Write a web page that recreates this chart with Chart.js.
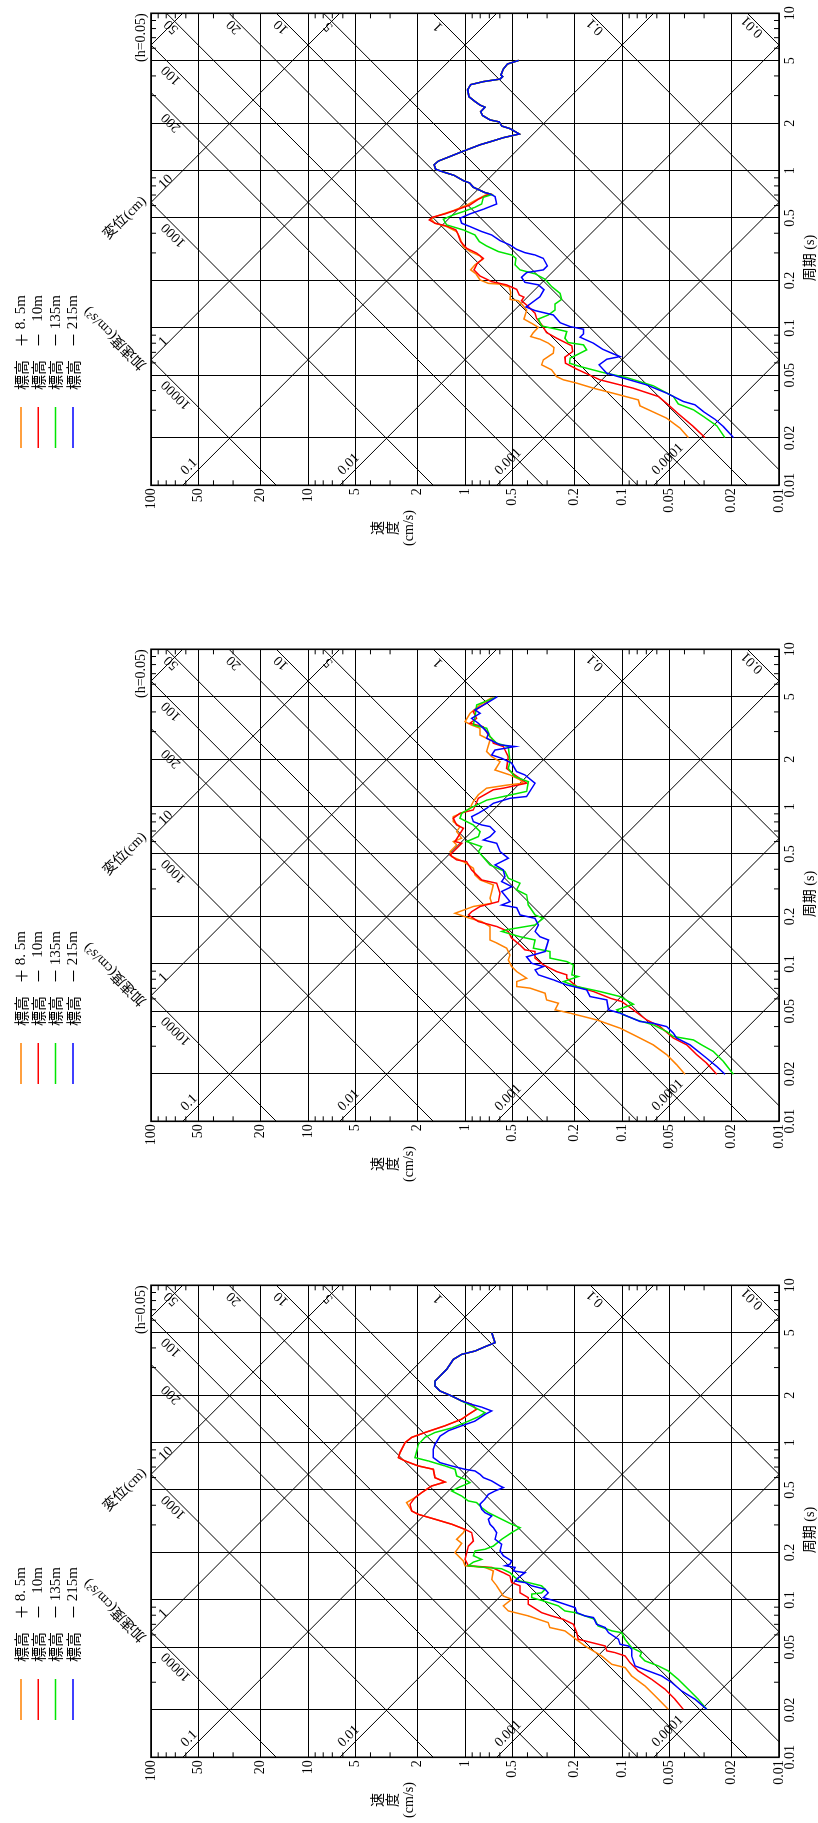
<!DOCTYPE html>
<html lang="ja">
<head>
<meta charset="utf-8">
<title>応答スペクトル</title>
<script src="https://cdn.jsdelivr.net/npm/chart.js@4.4.1/dist/chart.umd.min.js"></script>
<style>
  html, body { margin:0; padding:0; background:#fff; }
  body { width:818px; height:1823px; overflow:hidden; position:relative; }
  .panel { position:absolute; left:0; width:818px; height:636px; }
  .rot { position:absolute; left:0; top:0; width:636px; height:818px; transform-origin:0 0; transform:translate(0,636px) rotate(-90deg); }
  .rot canvas { display:block; }
</style>
</head>
<body>
<div class="panel" style="top:0px"><div class="rot"><canvas id="c1" width="636" height="818"></canvas></div></div>
<div class="panel" style="top:636px"><div class="rot"><canvas id="c2" width="636" height="818"></canvas></div></div>
<div class="panel" style="top:1272px"><div class="rot"><canvas id="c3" width="636" height="818"></canvas></div></div>
<script>
// ---------- axis / grid values ----------
const periodTicks   = [0.01,0.02,0.05,0.1,0.2,0.5,1,2,5,10];
const velocityTicks = [0.01,0.02,0.05,0.1,0.2,0.5,1,2,5,10,20,50,100];
const dispLines  = [0.0001,0.001,0.01,0.1,1,10,100];          // 変位 (cm)
const dispLabels = ['0.0001','0.001','0.01','0.1','1','10',''];
const accLines   = [0.01,0.1,1,5,10,20,50,100,200,1000,10000];  // 加速度 (cm/s²)
const accLabels  = ['0.01','0.1','1','5','10','20','50','100','200','1000','10000'];
const seriesLabels = ['標高 ＋8. 5m','標高 － 10m','標高 －135m','標高 －215m'];
const seriesColors = ['#ff8000','#ff0000','#00e600','#0000ff'];
const seriesOrder  = [3,2,1,0];

// ---------- panel 1 : [period (s), velocity (cm/s)] ----------
const p1Upper = [[0.711,0.693],[0.725,0.746],[0.784,0.885],[0.835,0.934],[0.864,1.025],[0.934,1.175],[0.981,1.374],[1.02,1.537],[1.09,1.575],[1.15,1.479],[1.23,1.246],[1.32,1.045],[1.46,0.802],[1.53,0.686],[1.62,0.570],[1.71,0.451],[1.85,0.517],[1.92,0.584],[2.04,0.604],[2.10,0.693],[2.24,0.772],[2.37,0.795],[2.53,0.746],[2.61,0.802],[2.75,0.864],[2.95,0.943],[3.26,0.962],[3.52,0.920],[3.68,0.764],[3.82,0.598],[3.96,0.576],[4.06,0.590],[4.43,0.570],[4.76,0.537],[5.02,0.455]];
const p1Orange = [[0.0201,0.0378],[0.0231,0.0427],[0.0267,0.0519],[0.0320,0.0768],[0.0349,0.0787],[0.0385,0.114],[0.0414,0.152],[0.0446,0.194],[0.0468,0.236],[0.0491,0.261],[0.0542,0.281],[0.0583,0.325],[0.0627,0.317],[0.0691,0.274],[0.0751,0.271],[0.0800,0.294],[0.0848,0.333],[0.0882,0.382],[0.0935,0.367],[0.101,0.341],[0.107,0.376],[0.114,0.421],[0.130,0.405],[0.142,0.436],[0.149,0.457],[0.152,0.517],[0.168,0.512],[0.182,0.522],[0.190,0.598],[0.192,0.710],[0.202,0.802],[0.221,0.851],[0.234,0.920],[0.252,0.864],[0.273,0.772],[0.287,0.802],[0.306,0.929],[0.329,1.025],[0.381,1.087],[0.410,1.130],[0.441,1.309],[0.463,1.553],[0.496,1.654],[0.518,1.479],[0.557,1.187],[0.603,0.976],[0.645,0.864],[0.697,0.746]];
const p1Red = [[0.0201,0.0296],[0.0236,0.0351],[0.0285,0.0438],[0.0325,0.0507],[0.0367,0.0587],[0.0414,0.0847],[0.0468,0.138],[0.0547,0.194],[0.0597,0.229],[0.0652,0.231],[0.0708,0.206],[0.0770,0.209],[0.0861,0.261],[0.0935,0.302],[0.105,0.325],[0.115,0.350],[0.124,0.358],[0.137,0.395],[0.149,0.436],[0.157,0.421],[0.162,0.451],[0.176,0.469],[0.188,0.543],[0.197,0.676],[0.214,0.802],[0.234,0.876],[0.258,0.834],[0.277,0.764],[0.299,0.843],[0.321,0.976],[0.354,1.066],[0.390,1.103],[0.420,1.141],[0.445,1.309],[0.463,1.553],[0.486,1.687],[0.506,1.607],[0.531,1.341],[0.568,1.103],[0.605,0.929],[0.658,0.822],[0.697,0.728]];
const p1Green = [[0.0201,0.0221],[0.0239,0.0249],[0.0274,0.0303],[0.0302,0.0351],[0.0329,0.0438],[0.0367,0.0471],[0.0429,0.0632],[0.0484,0.0934],[0.0521,0.132],[0.0569,0.185],[0.0597,0.216],[0.0643,0.214],[0.0675,0.194],[0.0726,0.168],[0.0781,0.176],[0.0808,0.220],[0.0861,0.231],[0.0949,0.225],[0.0982,0.261],[0.103,0.325],[0.114,0.341],[0.121,0.294],[0.130,0.267],[0.142,0.267],[0.152,0.242],[0.166,0.248],[0.183,0.280],[0.204,0.309],[0.221,0.358],[0.234,0.446],[0.252,0.480],[0.277,0.473],[0.291,0.504],[0.306,0.613],[0.332,0.728],[0.354,0.810],[0.390,0.864],[0.420,1.025],[0.452,1.309],[0.491,1.374],[0.523,1.187],[0.549,1.025],[0.585,0.864],[0.614,0.783],[0.677,0.764],[0.704,0.676]];
const p1Blue = [[0.0201,0.0195],[0.0236,0.0226],[0.0263,0.0256],[0.0294,0.0303],[0.0325,0.0343],[0.0341,0.0407],[0.0385,0.0519],[0.0435,0.0697],[0.0487,0.103],[0.0516,0.125],[0.0583,0.140],[0.0633,0.125],[0.0658,0.103],[0.0691,0.116],[0.0733,0.133],[0.080,0.152],[0.0874,0.185],[0.0917,0.176],[0.0982,0.176],[0.102,0.214],[0.108,0.248],[0.121,0.274],[0.129,0.358],[0.136,0.409],[0.142,0.385],[0.158,0.333],[0.175,0.314],[0.188,0.341],[0.195,0.415],[0.210,0.436],[0.225,0.405],[0.234,0.317],[0.248,0.299],[0.277,0.317],[0.291,0.358],[0.301,0.415],[0.316,0.469],[0.337,0.517],[0.359,0.598],[0.390,0.676],[0.410,0.783],[0.441,0.929],[0.463,1.050],[0.498,1.076],[0.531,0.929],[0.568,0.764],[0.614,0.628],[0.684,0.644]];

// ---------- panel 2 ----------
const p2Orange = [[0.0199,0.0397],[0.0229,0.0449],[0.0265,0.0519],[0.0306,0.0632],[0.0355,0.0847],[0.0391,0.103],[0.0441,0.145],[0.0487,0.214],[0.0511,0.267],[0.0563,0.254],[0.0591,0.302],[0.0652,0.309],[0.0702,0.385],[0.0719,0.469],[0.0773,0.469],[0.0812,0.405],[0.0895,0.469],[0.0963,0.504],[0.106,0.530],[0.114,0.517],[0.126,0.543],[0.136,0.628],[0.142,0.693],[0.173,0.693],[0.186,0.783],[0.195,0.929],[0.210,1.158],[0.232,0.885],[0.243,0.676],[0.262,0.693],[0.289,0.676],[0.318,0.660],[0.342,0.802],[0.368,0.864],[0.406,0.885],[0.447,1.025],[0.482,1.216],[0.518,1.246],[0.571,1.130],[0.600,1.187],[0.630,1.050],[0.694,1.130],[0.747,1.076],[0.803,1.187],[0.864,1.187],[0.930,1.0],[0.976,0.929],[1.08,0.885],[1.19,0.822],[1.31,0.728],[1.37,0.543],[1.41,0.425],[1.48,0.446],[1.59,0.517],[1.71,0.644],[1.93,0.598],[2.08,0.676],[2.24,0.728],[2.65,0.693],[2.85,0.802],[3.15,0.802],[3.30,0.907],[3.47,1.0],[3.92,0.929],[4.43,0.802],[4.93,0.676]];
const p2Red = [[0.0199,0.0249],[0.0234,0.0289],[0.0265,0.0334],[0.0306,0.0387],[0.0338,0.0471],[0.0400,0.0573],[0.0441,0.0697],[0.0511,0.0847],[0.0577,0.1005],[0.0606,0.119],[0.0668,0.152],[0.0719,0.194],[0.0812,0.225],[0.0853,0.225],[0.0895,0.261],[0.0987,0.317],[0.109,0.358],[0.120,0.358],[0.123,0.415],[0.132,0.446],[0.146,0.504],[0.161,0.530],[0.173,0.628],[0.186,0.822],[0.205,0.952],[0.215,0.907],[0.232,0.802],[0.249,0.613],[0.282,0.598],[0.326,0.628],[0.342,0.783],[0.359,0.822],[0.396,0.907],[0.447,0.976],[0.459,1.130],[0.493,1.246],[0.585,1.050],[0.600,1.158],[0.729,1.025],[0.765,1.130],[0.844,1.187],[0.908,1.076],[0.953,0.885],[1.13,0.822],[1.28,0.660],[1.31,0.570],[1.41,0.405],[1.59,0.481],[1.75,0.543],[2.08,0.530],[2.41,0.570],[2.53,0.660],[2.72,0.676],[2.85,0.710],[3.22,0.764],[3.39,0.929],[3.64,0.843],[4.02,0.885],[4.43,0.764],[4.93,0.660]];
const p2Green = [[0.0199,0.0195],[0.0240,0.0226],[0.0278,0.0262],[0.0306,0.0311],[0.0329,0.0351],[0.0346,0.0471],[0.0372,0.0519],[0.0410,0.0632],[0.0441,0.0807],[0.0475,0.098],[0.0511,0.108],[0.0555,0.0847],[0.0621,0.103],[0.0668,0.138],[0.0719,0.194],[0.0773,0.236],[0.0832,0.190],[0.0853,0.209],[0.0987,0.204],[0.1036,0.225],[0.109,0.288],[0.120,0.288],[0.126,0.367],[0.142,0.358],[0.149,0.446],[0.161,0.584],[0.165,0.543],[0.177,0.358],[0.195,0.317],[0.205,0.358],[0.237,0.395],[0.275,0.405],[0.296,0.469],[0.326,0.446],[0.351,0.530],[0.387,0.556],[0.426,0.693],[0.518,0.822],[0.557,0.783],[0.600,0.976],[0.645,0.822],[0.694,0.802],[0.765,0.885],[0.844,1.076],[0.908,1.050],[0.976,0.929],[1.10,0.728],[1.16,0.570],[1.25,0.405],[1.44,0.395],[1.55,0.480],[1.75,0.530],[1.93,0.517],[2.41,0.530],[2.53,0.628],[2.79,0.693],[3.15,0.728],[3.30,0.885],[3.73,0.864],[4.43,0.843],[4.93,0.644]];
const p2Blue = [[0.0199,0.0221],[0.0223,0.0249],[0.0252,0.0289],[0.0306,0.0369],[0.0338,0.0449],[0.0363,0.0471],[0.0400,0.0519],[0.0420,0.0632],[0.0431,0.0768],[0.0487,0.103],[0.0511,0.122],[0.0591,0.125],[0.0621,0.160],[0.0685,0.168],[0.0736,0.225],[0.0793,0.274],[0.0853,0.341],[0.0917,0.358],[0.0963,0.317],[0.101,0.376],[0.111,0.405],[0.120,0.309],[0.142,0.294],[0.149,0.333],[0.161,0.358],[0.177,0.341],[0.195,0.358],[0.205,0.446],[0.228,0.469],[0.237,0.584],[0.249,0.517],[0.289,0.584],[0.310,0.504],[0.334,0.584],[0.359,0.556],[0.396,0.570],[0.426,0.644],[0.470,0.530],[0.518,0.598],[0.585,0.628],[0.614,0.764],[0.645,0.693],[0.694,0.644],[0.747,0.693],[0.765,0.783],[0.803,0.885],[0.864,0.907],[0.908,0.822],[0.976,0.728],[1.05,0.660],[1.13,0.517],[1.16,0.405],[1.41,0.358],[1.59,0.415],[1.67,0.469],[1.89,0.504],[2.03,0.584],[2.13,0.676],[2.29,0.644],[2.41,0.480],[2.47,0.598],[2.72,0.728],[2.92,0.710],[3.15,0.764],[3.39,0.822],[3.64,0.907],[3.92,0.802],[4.12,0.864],[4.54,0.728],[5.00,0.622]];

// ---------- panel 3 ----------
const p3Upper = [[1.75,0.907],[1.84,1.050],[1.98,1.216],[2.13,1.443],[2.29,1.553],[2.46,1.553],[2.65,1.443],[2.92,1.309],[3.38,1.187],[3.64,1.050],[3.82,0.864],[4.07,0.746],[4.32,0.644],[5.00,0.676]];
const p3Orange = [[0.0202,0.0507],[0.0246,0.0617],[0.0284,0.0714],[0.0329,0.0868],[0.0372,0.0957],[0.0390,0.116],[0.0441,0.135],[0.0510,0.172],[0.0549,0.190],[0.0636,0.231],[0.0668,0.288],[0.0718,0.295],[0.0792,0.395],[0.0852,0.530],[0.0917,0.570],[0.101,0.504],[0.106,0.570],[0.123,0.628],[0.135,0.676],[0.153,0.660],[0.161,0.746],[0.165,1.0],[0.177,1.025],[0.200,1.158],[0.229,1.050],[0.243,1.130],[0.268,1.025],[0.281,1.0],[0.303,1.216],[0.326,1.553],[0.350,1.983],[0.368,2.186],[0.416,2.353],[0.447,2.082],[0.481,1.888],[0.530,1.631],[0.562,1.341],[0.599,1.553],[0.677,1.591],[0.711,1.983],[0.765,2.411],[0.803,2.659],[0.864,2.595],[1.00,2.411],[1.08,2.186],[1.16,1.798],[1.28,1.341],[1.41,1.050],[1.51,0.952],[1.63,0.843]];
const p3Red = [[0.0202,0.0407],[0.0234,0.0460],[0.0271,0.0532],[0.0313,0.0647],[0.0354,0.0787],[0.0400,0.0889],[0.0441,0.0957],[0.0463,0.111],[0.0475,0.125],[0.0510,0.128],[0.0536,0.156],[0.0563,0.190],[0.0620,0.194],[0.0701,0.204],[0.0754,0.237],[0.0792,0.281],[0.0831,0.325],[0.0939,0.395],[0.1035,0.395],[0.111,0.446],[0.123,0.446],[0.129,0.504],[0.142,0.517],[0.149,0.570],[0.161,0.676],[0.165,0.952],[0.181,1.0],[0.200,0.976],[0.220,0.952],[0.237,0.885],[0.268,0.907],[0.281,1.0],[0.303,1.216],[0.326,1.553],[0.350,1.983],[0.368,2.186],[0.406,2.240],[0.447,2.082],[0.481,1.888],[0.530,1.631],[0.562,1.341],[0.599,1.553],[0.677,1.591],[0.711,1.983],[0.765,2.411],[0.803,2.659],[0.864,2.595],[1.00,2.411],[1.08,2.186],[1.16,1.798],[1.28,1.341],[1.41,1.050],[1.51,0.952],[1.63,0.843]];
const p3Green = [[0.0202,0.0289],[0.0234,0.0327],[0.0271,0.0378],[0.0313,0.0438],[0.0354,0.0507],[0.0381,0.0587],[0.0410,0.0714],[0.0441,0.0768],[0.0463,0.0750],[0.0498,0.0868],[0.0563,0.0957],[0.0620,0.1005],[0.0636,0.116],[0.0684,0.142],[0.0754,0.149],[0.0792,0.172],[0.0831,0.199],[0.0852,0.231],[0.0917,0.254],[0.0986,0.317],[0.1035,0.376],[0.109,0.376],[0.111,0.325],[0.117,0.309],[0.123,0.325],[0.129,0.395],[0.132,0.446],[0.139,0.480],[0.149,0.517],[0.158,0.584],[0.161,0.746],[0.165,0.952],[0.174,0.885],[0.181,0.783],[0.191,0.885],[0.205,0.864],[0.210,0.746],[0.220,0.660],[0.243,0.584],[0.268,0.504],[0.288,0.446],[0.303,0.504],[0.326,0.584],[0.359,0.710],[0.386,0.783],[0.416,0.843],[0.426,0.952],[0.458,1.050],[0.493,1.216],[0.518,1.103],[0.557,0.929],[0.585,1.0],[0.614,1.130],[0.677,1.158],[0.711,1.341],[0.765,1.713],[0.803,2.082],[0.885,2.032],[0.975,1.983],[1.08,1.798],[1.16,1.553],[1.24,1.216],[1.34,1.0],[1.46,0.822],[1.55,0.746],[1.71,0.907]];
const p3Blue = [[0.0202,0.0289],[0.0234,0.0343],[0.0264,0.0417],[0.0299,0.0483],[0.0329,0.0559],[0.0354,0.0680],[0.0381,0.0826],[0.0441,0.0868],[0.0486,0.0868],[0.0510,0.0912],[0.0523,0.103],[0.0563,0.1055],[0.0620,0.122],[0.0668,0.128],[0.0701,0.145],[0.0773,0.152],[0.0792,0.172],[0.0831,0.194],[0.0894,0.199],[0.0939,0.231],[0.0986,0.267],[0.1035,0.317],[0.111,0.295],[0.117,0.309],[0.123,0.376],[0.129,0.415],[0.132,0.480],[0.139,0.457],[0.149,0.415],[0.153,0.492],[0.161,0.480],[0.165,0.556],[0.169,0.517],[0.177,0.504],[0.191,0.570],[0.205,0.598],[0.226,0.584],[0.243,0.644],[0.268,0.628],[0.288,0.660],[0.303,0.693],[0.326,0.710],[0.342,0.676],[0.359,0.746],[0.377,0.783],[0.406,0.803],[0.437,0.746],[0.469,0.710],[0.493,0.644],[0.518,0.570],[0.530,0.598],[0.571,0.676],[0.599,0.764],[0.629,0.803],[0.661,0.864],[0.677,1.0],[0.711,1.216],[0.746,1.443],[0.803,1.591],[0.907,1.591],[0.975,1.553],[1.10,1.443],[1.19,1.277],[1.28,1.050],[1.37,0.864],[1.51,0.746],[1.59,0.676],[1.68,0.783]];

const panels = [
  {id:'c1', series:[p1Orange.concat(p1Upper), p1Red.concat(p1Upper), p1Green.concat(p1Upper), p1Blue.concat(p1Upper)]},
  {id:'c2', series:[p2Orange, p2Red, p2Green, p2Blue]},
  {id:'c3', series:[p3Orange.concat(p3Upper), p3Red.concat(p3Upper), p3Green.concat(p3Upper.slice(1)), p3Blue.concat(p3Upper)]}
];

// ---------- drawing helpers ----------
const TWO_PI = 2*Math.PI;
const SERIF = '"Liberation Serif", "DejaVu Serif", serif';
const MIX = '"Liberation Serif", "Noto Sans CJK JP", serif';
const CJK = '"Noto Sans CJK JP", "Noto Sans CJK SC", sans-serif';

function rotText(ctx, s, x, y, ang, font, align) {
  ctx.save();
  ctx.translate(x, y);
  ctx.rotate(ang || 0);
  ctx.font = font;
  ctx.fillStyle = '#000';
  ctx.textAlign = align || 'center';
  ctx.textBaseline = 'middle';
  ctx.fillText(s, 0, 0);
  ctx.restore();
}

const tripartitePlugin = {
  id: 'tripartite',
  beforeDatasetsDraw(chart) {
    const {ctx, chartArea: ca} = chart;
    const x = chart.scales.x, y = chart.scales.y;
    const tMin = x.min, tMax = x.max, vMax = y.max;
    const P = (t, v) => [x.getPixelForValue(t), y.getPixelForValue(v)];
    ctx.save();
    ctx.beginPath();
    ctx.rect(ca.left, ca.top, ca.right - ca.left, ca.bottom - ca.top);
    ctx.clip();
    ctx.strokeStyle = '#000';
    ctx.lineWidth = 1;
    dispLines.forEach(D => {
      const a = P(tMin, TWO_PI*D/tMin), b = P(tMax, TWO_PI*D/tMax);
      ctx.beginPath(); ctx.moveTo(a[0], a[1]); ctx.lineTo(b[0], b[1]); ctx.stroke();
    });
    accLines.forEach(A => {
      const a = P(tMin, A*tMin/TWO_PI), b = P(tMax, A*tMax/TWO_PI);
      ctx.beginPath(); ctx.moveTo(a[0], a[1]); ctx.lineTo(b[0], b[1]); ctx.stroke();
    });
    ctx.restore();

    const font = '14px ' + SERIF;
    ctx.save();
    ctx.font = font;
    // displacement labels
    dispLines.forEach((D, i) => {
      const s = dispLabels[i];
      if (!s) return;
      const a = P(tMin, TWO_PI*D/tMin), b = P(tMax, TWO_PI*D/tMax);
      let dx = b[0]-a[0], dy = b[1]-a[1];
      const L = Math.hypot(dx, dy); dx /= L; dy /= L;
      const nx = dy, ny = -dx;
      const w = ctx.measureText(s).width;
      let ax, ay, along, off;
      if (TWO_PI*D/tMin <= vMax) { ax = a[0]; ay = a[1]; along = 9 + w/2; off = 8.5; }
      else { const q = P(TWO_PI*D/vMax, vMax); ax = q[0]; ay = q[1]; along = 18 + w/2; off = 4; }
      rotText(ctx, s, ax + dx*along + nx*off, ay + dy*along + ny*off, Math.atan2(dy, dx), font);
    });
    // acceleration labels
    accLines.forEach((A, i) => {
      const s = accLabels[i];
      if (!s) return;
      const a = P(tMin, A*tMin/TWO_PI), b = P(tMax, A*tMax/TWO_PI);
      let ux = b[0]-a[0], uy = b[1]-a[1];
      const L = Math.hypot(ux, uy); ux /= L; uy /= L;
      const dx = -ux, dy = -uy;       // into the plot (down-left)
      const nx = uy, ny = -ux;        // upper-left side
      const w = ctx.measureText(s).width;
      let ax, ay, along, off;
      const vR = A*tMax/TWO_PI;
      if (vR >= vMax) { const q = P(TWO_PI*vMax/A, vMax); ax = q[0]; ay = q[1]; along = 25 + w/2; off = 7; }
      else { ax = b[0]; ay = b[1]; along = 13; off = 6; }
      rotText(ctx, s, ax + dx*along + nx*off, ay + dy*along + ny*off, Math.atan2(uy, ux), font);
    });
    ctx.restore();
  }
};

const framePlugin = {
  id: 'frame',
  afterDatasetsDraw(chart) {
    const {ctx, chartArea: ca} = chart;
    const x = chart.scales.x, y = chart.scales.y;
    ctx.save();
    ctx.strokeStyle = '#000';
    ctx.lineWidth = 1;
    const mult = [3,4,6,7,8,9];
    const tl = 5;
    [0.01,0.1,1].forEach(d => mult.forEach(m => {
      const px = x.getPixelForValue(d*m);
      ctx.beginPath(); ctx.moveTo(px, ca.top); ctx.lineTo(px, ca.top + tl); ctx.stroke();
      ctx.beginPath(); ctx.moveTo(px, ca.bottom); ctx.lineTo(px, ca.bottom - tl); ctx.stroke();
    }));
    [0.01,0.1,1,10].forEach(d => mult.forEach(m => {
      const py = y.getPixelForValue(d*m);
      ctx.beginPath(); ctx.moveTo(ca.left, py); ctx.lineTo(ca.left + tl, py); ctx.stroke();
      ctx.beginPath(); ctx.moveTo(ca.right, py); ctx.lineTo(ca.right - tl, py); ctx.stroke();
    }));
    ctx.lineWidth = 1.6;
    ctx.strokeRect(ca.left, ca.top, ca.right - ca.left, ca.bottom - ca.top);
    ctx.restore();
  }
};

const annotPlugin = {
  id: 'annot',
  afterDraw(chart) {
    const {ctx, chartArea: ca} = chart;
    ctx.save();
    // legend
    chart.data.datasets.forEach((ds, i) => {
      const yy = 21 + i*17.3;
      ctx.strokeStyle = ds.borderColor;
      ctx.lineWidth = 1.5;
      ctx.beginPath(); ctx.moveTo(188, yy); ctx.lineTo(229, yy); ctx.stroke();
      const m = ds.label.match(/^(\S+)\s*([＋－])\s*(.*)$/);
      rotText(ctx, m[1], 246, yy, 0, '15px ' + CJK, 'left');
      rotText(ctx, m[2], 296, yy, 0, '15px ' + CJK, 'center');
      rotText(ctx, m[3], 341, yy, 0, '15px ' + SERIF, 'right');
    });
    // titles
    rotText(ctx, '(h=0.05)', ca.right, 141, 0, '14px ' + SERIF, 'right');
    rotText(ctx, '変位(cm)', 418, 125, Math.PI/4, '14px ' + MIX);
    rotText(ctx, '加速度(cm/s²)', 298, 115, -Math.PI/4, '14px ' + MIX);
    rotText(ctx, '周期 (s)', 378, 810, 0, '14px ' + MIX);
    rotText(ctx, '速', 108, 378, 0, '14px ' + MIX);
    rotText(ctx, '度', 108, 393, 0, '14px ' + MIX);
    rotText(ctx, '(cm/s)', 108, 409, 0, '14px ' + SERIF);
    ctx.restore();
  }
};

const tickFont = {family: SERIF, size: 14};

panels.forEach(p => {
  const datasets = p.series.map((pts, i) => ({
    label: seriesLabels[i],
    data: pts.map(q => ({x: q[0], y: q[1]})),
    borderColor: seriesColors[i],
    backgroundColor: seriesColors[i],
    borderWidth: 1.5,
    pointRadius: 0,
    showLine: true,
    tension: 0,
    order: seriesOrder[i]
  }));
  new Chart(document.getElementById(p.id), {
    type: 'scatter',
    data: {datasets},
    options: {
      responsive: false,
      animation: false,
      devicePixelRatio: 1,
      layout: {padding: {top: 151, right: 13.3, left: 0, bottom: 0}},
      plugins: {legend: {display: false}, tooltip: {enabled: false}},
      scales: {
        x: {
          type: 'logarithmic', position: 'bottom', min: 0.01, max: 10,
          afterBuildTicks: s => { s.ticks = periodTicks.map(v => ({value: v})); },
          afterFit: s => { s.height = 39; },
          ticks: {autoSkip: false, maxRotation: 0, minRotation: 0, padding: 3, color: '#000', font: tickFont, callback: v => String(v)},
          grid: {color: '#000', lineWidth: 1, drawTicks: false},
          border: {display: false}
        },
        y: {
          type: 'logarithmic', position: 'left', min: 0.01, max: 100,
          afterBuildTicks: s => { s.ticks = velocityTicks.map(v => ({value: v})); },
          afterFit: s => { s.width = 150.7; },
          ticks: {autoSkip: false, padding: 3, color: '#000', font: tickFont, callback: v => String(v)},
          grid: {color: '#000', lineWidth: 1, drawTicks: false},
          border: {display: false}
        }
      }
    },
    plugins: [tripartitePlugin, framePlugin, annotPlugin]
  });
});
</script>
</body>
</html>
